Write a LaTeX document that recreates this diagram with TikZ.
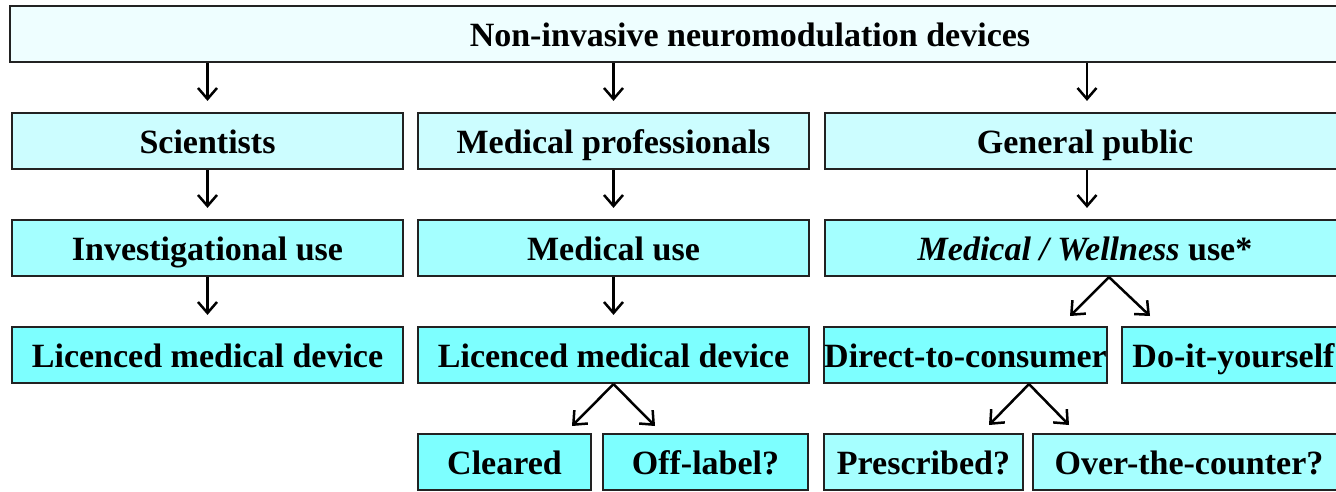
\documentclass[tikz,border=0pt]{standalone}
\usepackage{fontspec}
\setmainfont{Liberation Serif}
\usetikzlibrary{arrows.meta}
\definecolor{boxline}{HTML}{222222}
\definecolor{tier0}{HTML}{EEFEFF}
\definecolor{tier1}{HTML}{CCFDFF}
\definecolor{tier2}{HTML}{A4FFFF}
\definecolor{tier3}{HTML}{7DFFFF}
\definecolor{tier4}{HTML}{A6FFFF}
\begin{document}
\begin{tikzpicture}[x=1pt,y=-1pt,
  box/.style={draw=boxline, line width=2.2pt, minimum height=56pt, inner sep=0pt,
    text height=25pt, text depth=0pt,
    font=\fontsize{34}{40}\selectfont\bfseries},
  arr/.style={draw=black, line width=2.5pt,
    -{Straight Barb[length=11pt,width=19pt,line width=2.5pt]}},
  down/.style={arr, shorten >=11pt}
]
\useasboundingbox (0,0) rectangle (1336,491);
\clip (0,0) rectangle (1336,491);

% top level
\node[box, fill=tier0, minimum width=1480pt] (top) at (750,34) {Non-invasive neuromodulation devices};

% user groups
\node[box, fill=tier1, minimum width=391pt] (sci) at (207.5,141) {Scientists};
\node[box, fill=tier1, minimum width=391pt] (med) at (613.5,141) {Medical professionals};
\node[box, fill=tier1, minimum width=520pt] (gp)  at (1085,141) {General public};

% kinds of use
\node[box, fill=tier2, minimum width=391pt] (inv) at (207.5,248) {Investigational use};
\node[box, fill=tier2, minimum width=391pt] (mu)  at (613.5,248) {Medical use};
\node[box, fill=tier2, minimum width=520pt] (mwu) at (1085,248) {\textit{Medical / Wellness} use*};

% device routes
\node[box, fill=tier3, minimum width=391pt] (lmdA) at (207.5,355) {Licenced medical device};
\node[box, fill=tier3, minimum width=391pt] (lmdB) at (613.5,355) {Licenced medical device};
\node[box, fill=tier3, minimum width=281pt] (dtc)  at (965.5,355) {Direct-to-consumer};
\node[box, fill=tier3, minimum width=223pt] (diy)  at (1233.5,355) {Do-it-yourself};

% sub-routes
\node[box, fill=tier3, minimum width=173pt] (clr) at (504.5,462) {Cleared};
\node[box, fill=tier3, minimum width=205pt] (off) at (705.5,462) {Off-label?};
\node[box, fill=tier4, minimum width=199pt] (pre) at (923.5,462) {Prescribed?};
\node[box, fill=tier4, minimum width=312pt] (otc) at (1189,462) {Over-the-counter?};

% straight connectors
\draw[down] (top.south -| sci.north) -- (sci.north);
\draw[down] (top.south -| med.north) -- (med.north);
\draw[down] ([xshift=2pt]top.south -| gp.north) -- ([xshift=2pt]gp.north);
\draw[down] (sci.south) -- (inv.north);
\draw[down] (med.south) -- (mu.north);
\draw[down] ([xshift=2pt]gp.south) -- ([xshift=2pt]mwu.north);
\draw[down] (inv.south) -- (lmdA.north);
\draw[down] (mu.south) -- (lmdB.north);

% forks
\coordinate (lmdL) at (572,426);
\coordinate (lmdR) at (655,426);
\coordinate (mwL)  at (1070,316);
\coordinate (mwR)  at (1150,316);
\coordinate (dtcL) at (989,425);
\coordinate (dtcR) at (1069,425);
\draw[arr] (lmdB.south) -- (lmdL);
\draw[arr] (lmdB.south) -- (lmdR);
\draw[arr] ([xshift=24pt]mwu.south) -- (mwL);
\draw[arr] ([xshift=24pt]mwu.south) -- (mwR);
\draw[arr] ([xshift=63.5pt]dtc.south) -- (dtcL);
\draw[arr] ([xshift=63.5pt]dtc.south) -- (dtcR);
\end{tikzpicture}
\end{document}
